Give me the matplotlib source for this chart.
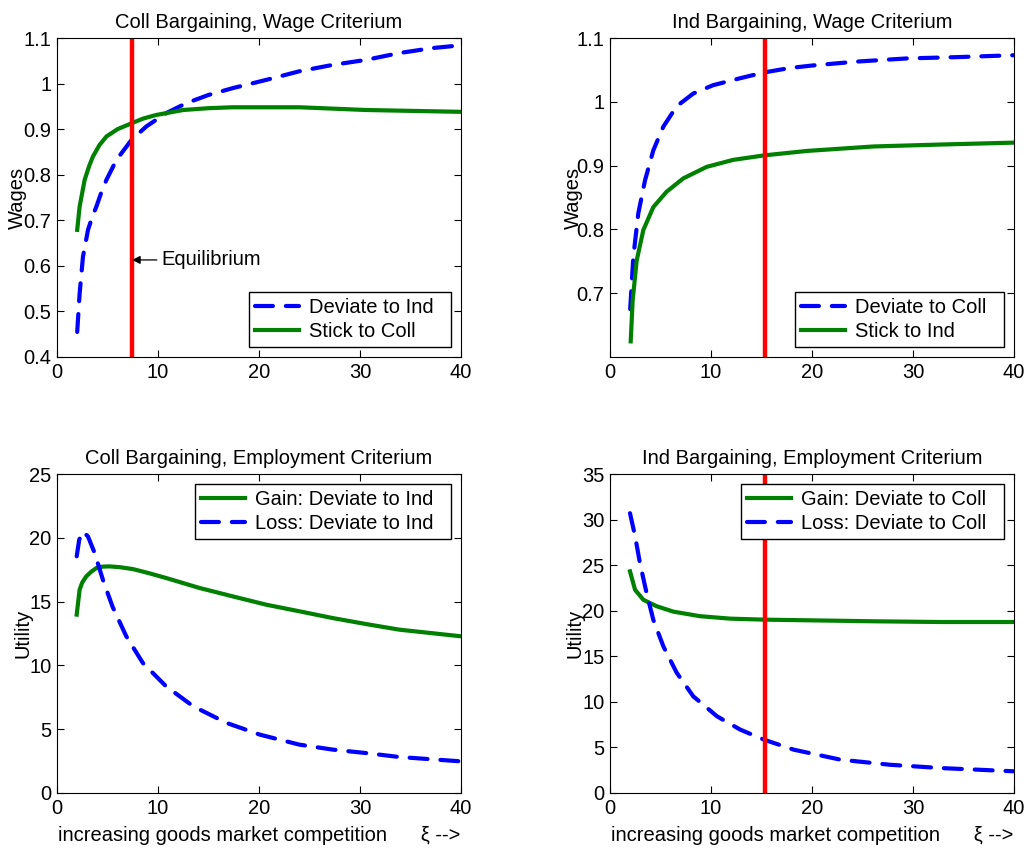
import matplotlib
matplotlib.use("Agg")
import matplotlib.pyplot as plt

plt.rcParams['font.family'] = ['Liberation Sans', 'DejaVu Sans']

# --- Coll bargaining, wage criterium ---
cw_dev_x = [2.0, 2.24, 2.57, 3.07, 3.5, 3.9, 4.4, 4.9, 5.9, 7.4, 8.85, 10.8, 12.8, 15.0, 17.4, 20.7, 24.0, 27.3, 30.6, 33.9, 37.2, 40.0]
cw_dev_y = [0.455, 0.539, 0.62, 0.679, 0.708, 0.73, 0.762, 0.789, 0.833, 0.877, 0.906, 0.935, 0.957, 0.975, 0.99, 1.008, 1.027, 1.041, 1.052, 1.067, 1.078, 1.084]
cw_stick_x = [2.0, 2.24, 2.74, 3.2, 3.56, 4.2, 4.9, 6.0, 7.4, 8.5, 9.8, 12.5, 15.0, 17.4, 24.0, 30.6, 40.0]
cw_stick_y = [0.679, 0.73, 0.789, 0.82, 0.84, 0.865, 0.884, 0.9, 0.913, 0.923, 0.931, 0.942, 0.946, 0.948, 0.948, 0.942, 0.938]
coll_eq = 7.43

# --- Ind bargaining, wage criterium ---
iw_dev_x = [2.0, 2.31, 2.8, 3.47, 4.29, 5.28, 6.6, 8.25, 10.2, 12.9, 15.25, 17.8, 20.1, 24.4, 29.4, 34.3, 40.0]
iw_dev_y = [0.675, 0.757, 0.825, 0.877, 0.924, 0.961, 0.993, 1.013, 1.026, 1.037, 1.046, 1.053, 1.057, 1.063, 1.068, 1.07, 1.073]
iw_stick_x = [2.05, 2.24, 2.64, 3.3, 4.29, 5.6, 7.26, 9.57, 12.2, 15.25, 19.5, 26.1, 32.7, 40.0]
iw_stick_y = [0.6245, 0.688, 0.751, 0.799, 0.835, 0.859, 0.88, 0.898, 0.909, 0.916, 0.923, 0.93, 0.933, 0.936]
ind_eq = 15.3

# --- Coll bargaining, employment criterium ---
ce_gain_x = [1.95, 2.24, 2.5, 2.9, 3.4, 3.9, 4.5, 5.2, 6.2, 7.5, 9.0, 10.8, 14.1, 17.4, 20.7, 24.0, 27.3, 30.6, 33.9, 40.0]
ce_gain_y = [13.98, 15.94, 16.5, 16.98, 17.35, 17.63, 17.74, 17.76, 17.7, 17.55, 17.25, 16.85, 16.07, 15.41, 14.76, 14.24, 13.71, 13.24, 12.8, 12.28]
ce_loss_x = [1.95, 2.2, 2.57, 3.07, 3.73, 4.55, 5.5, 6.86, 8.5, 10.8, 13.5, 16.8, 20.1, 24.0, 27.3, 30.6, 33.9, 40.0]
ce_loss_y = [18.55, 19.85, 20.5, 20.1, 18.8, 16.7, 14.6, 12.28, 10.19, 8.36, 6.79, 5.49, 4.57, 3.79, 3.4, 3.13, 2.82, 2.48]

# --- Ind bargaining, employment criterium ---
ie_gain_x = [1.98, 2.48, 3.3, 4.6, 6.27, 8.9, 11.9, 15.25, 19.5, 26.1, 32.7, 40.0]
ie_gain_y = [24.32, 22.3, 21.2, 20.5, 19.9, 19.4, 19.13, 19.02, 18.95, 18.84, 18.76, 18.76]
ie_loss_x = [1.98, 2.48, 2.97, 3.63, 4.29, 5.28, 6.6, 8.25, 10.6, 12.9, 15.25, 18.2, 22.8, 27.7, 32.7, 40.0]
ie_loss_y = [30.7, 28.2, 25.2, 21.9, 19.0, 16.1, 13.2, 10.6, 8.41, 6.95, 5.85, 4.75, 3.66, 3.1, 2.74, 2.38]

xticks = [0, 10, 20, 30, 40]
xlab = "increasing goods market competition      \u03be -->"

BLUE = '#0000ff'
GREEN = '#008000'
RED = '#ff0000'
LW = 3.0
DASH = (4.3, 3.1)
FS = 14.5
PAD = '  '  # MATLAB legends leave extra room after the text

W, H = 1032, 852
fig = plt.figure(figsize=(W / 100, H / 100), dpi=100)


def make_ax(left, top, right, bottom):
    return fig.add_axes([left / W, 1 - bottom / H, (right - left) / W, (bottom - top) / H])


def dashed(ax, x, y, label):
    ax.plot(x, y, color=BLUE, lw=LW, dashes=DASH, dash_capstyle='round', label=label + PAD)


def solid(ax, x, y, label):
    ax.plot(x, y, color=GREEN, lw=LW, label=label + PAD)


def style(ax, title, ylabel, yticks, ylim, ylab_x):
    ax.set_xlim(0, 40)
    ax.set_ylim(*ylim)
    ax.set_xticks(xticks)
    ax.set_yticks(yticks)
    ax.tick_params(direction='in', length=5, width=0.8, top=True, right=True, labelsize=FS, pad=4)
    ax.set_title(title, fontsize=FS, pad=7)
    ax.set_ylabel(ylabel, fontsize=FS)
    ax.yaxis.set_label_coords(ylab_x, 0.5)
    for s in ax.spines.values():
        s.set_linewidth(0.8)


def legend(ax, loc):
    leg = ax.legend(loc=loc, fontsize=FS, fancybox=False, framealpha=1, edgecolor='k',
                    handlelength=2.2, handletextpad=0.5, borderaxespad=0.5, labelspacing=0.25,
                    borderpad=0.3)
    leg.get_frame().set_linewidth(1.0)


# top-left
ax1 = make_ax(57, 38, 461, 357)
dashed(ax1, cw_dev_x, cw_dev_y, 'Deviate to Ind')
solid(ax1, cw_stick_x, cw_stick_y, 'Stick to Coll')
ax1.axvline(coll_eq, color=RED, lw=3.2)
ax1.annotate('Equilibrium', xy=(coll_eq, 0.613), xytext=(10.3, 0.613), va='center', fontsize=FS,
             arrowprops=dict(arrowstyle='-|>', color='k', lw=0.9, shrinkA=1, shrinkB=0,
                             mutation_scale=12))
style(ax1, 'Coll Bargaining, Wage Criterium', 'Wages', [0.4, 0.5, 0.6, 0.7, 0.8, 0.9, 1.0, 1.1],
      (0.4, 1.1), -30 / 404)
ax1.set_yticklabels(['0.4', '0.5', '0.6', '0.7', '0.8', '0.9', '1', '1.1'])
legend(ax1, 'lower right')

# top-right
ax2 = make_ax(610, 38, 1014, 357)
dashed(ax2, iw_dev_x, iw_dev_y, 'Deviate to Coll')
solid(ax2, iw_stick_x, iw_stick_y, 'Stick to Ind')
ax2.axvline(ind_eq, color=RED, lw=3.2)
style(ax2, 'Ind Bargaining, Wage Criterium', 'Wages', [0.7, 0.8, 0.9, 1.0, 1.1], (0.6, 1.1), -27 / 404)
ax2.set_yticklabels(['0.7', '0.8', '0.9', '1', '1.1'])
legend(ax2, 'lower right')

# bottom-left
ax3 = make_ax(57, 474, 461, 793)
solid(ax3, ce_gain_x, ce_gain_y, 'Gain: Deviate to Ind')
dashed(ax3, ce_loss_x, ce_loss_y, 'Loss: Deviate to Ind')
style(ax3, 'Coll Bargaining, Employment Criterium', 'Utility', [0, 5, 10, 15, 20, 25], (0, 25), -24 / 404)
ax3.set_xlabel(xlab, fontsize=FS)
legend(ax3, 'upper right')

# bottom-right
ax4 = make_ax(610, 474, 1014, 793)
solid(ax4, ie_gain_x, ie_gain_y, 'Gain: Deviate to Coll')
dashed(ax4, ie_loss_x, ie_loss_y, 'Loss: Deviate to Coll')
ax4.axvline(ind_eq, color=RED, lw=3.2)
style(ax4, 'Ind Bargaining, Employment Criterium', 'Utility', [0, 5, 10, 15, 20, 25, 30, 35], (0, 35),
      -25 / 404)
ax4.set_xlabel(xlab, fontsize=FS)
legend(ax4, 'upper right')

for ax in (ax3, ax4):
    ax.xaxis.labelpad = 6

fig.savefig('out.png', dpi=100)
